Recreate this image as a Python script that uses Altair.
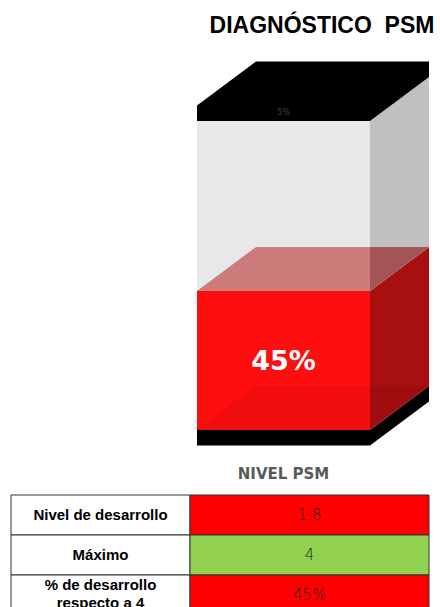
import altair as alt
import pandas as pd

# ---------------- data ----------------
TITLE = "DIAGNÓSTICO\u00a0\u00a0PSM"
CATEGORY = "NIVEL PSM"
SEGMENTS = ["Base", "Desarrollo", "Restante", "Tope"]
SEGMENT_VALUES = [5, 45, 55, 5]
SEGMENT_LABELS = ["", "45%", "", "5%"]
TABLE_LABELS = [["Nivel de desarrollo"], ["Máximo"], ["% de desarrollo", "respecto a 4"]]
TABLE_VALUES = ["1.8", "4", "45%"]

# ---------------- layout / style ----------------
W, H_TOP, H_TAB, GAP = 440, 480, 120, 12
FRONT_LEFT, FRONT_W = 197, 173
ZERO_PX, PX_PER_PCT = 430, 3.09
DEPTH_X_PX, DEPTH_Y_PX = 59, 44
COL_EDGES = [11, 190, 429]
VALUE_FILLS = ["#FF0000", "#92D050", "#FF0000"]
LINE_H = 18

DX = DEPTH_X_PX / FRONT_W
DY = DEPTH_Y_PX / PX_PER_PCT
x_scale = alt.Scale(domain=[-FRONT_LEFT / FRONT_W, (W - FRONT_LEFT) / FRONT_W], nice=False, zero=False)
y_scale = alt.Scale(domain=[(ZERO_PX - H_TOP) / PX_PER_PCT, ZERO_PX / PX_PER_PCT], nice=False, zero=False)

# segment bounds (base sits below zero)
bounds = []
s = -SEGMENT_VALUES[0]
for v in SEGMENT_VALUES:
    bounds.append((s, s + v))
    s += v
(b0, b1), (r0, r1), (g0, g1), (c0, c1) = bounds

rows = []


def add(pts, color, op=1.0):
    key = f"f{len(set(r['face'] for r in rows)):02d}"
    for x, y, y2 in pts:
        rows.append(dict(face=key, x=x, y=y, y2=y2, color=color, op=op))


# draw order back -> front
add([(0, b0, b1), (1, b0, b1), (1 + DX, b0 + DY, b1 + DY)], "#000000")
add([(0, r0, r1), (1, r0, r1)], "#FE0E0E")
add([(1, r0, r1), (1 + DX, r0 + DY, r1 + DY)], "#A80F0F")
add([(0, b1, b1), (DX, b1, b1 + DY), (1, b1, b1 + DY), (1 + DX, b1 + DY, b1 + DY)], "#000000", 0.06)
add([(1, g0, g1), (1 + DX, g0 + DY, g1 + DY)], "#C0C0C0")
add([(0, g0, g1), (1, g0, g1)], "#E8E8E8")
add([(0, r1, r1), (DX, r1, r1 + DY), (1, r1, r1 + DY)], "#CD7B7B")
add([(1, r1, r1 + DY), (1 + DX, r1 + DY, r1 + DY)], "#A35555")
add([(0, c0, c1), (DX, c0, c1 + DY), (1, c0, c1 + DY), (1 + DX, c0 + DY, c1 + DY)], "#000000")

faces = pd.DataFrame(rows)

box = alt.Chart(faces).mark_area(orient="vertical", interpolate="linear").encode(
    x=alt.X("x:Q", scale=x_scale, axis=None),
    y=alt.Y("y:Q", scale=y_scale, axis=None),
    y2="y2:Q",
    detail="face:N",
    color=alt.Color("color:N", scale=None),
    opacity=alt.Opacity("op:Q", scale=None),
)

lab = pd.DataFrame({
    "seg": SEGMENTS,
    "label": SEGMENT_LABELS,
    "x": [0.5] * len(SEGMENTS),
    "y": [(a + b) / 2 for a, b in bounds],
})

big_label = alt.Chart(lab[lab["seg"] == "Desarrollo"]).mark_text(
    font="DejaVu Sans", fontWeight="bold", fontSize=27, color="white", baseline="middle", dy=2
).encode(x=alt.X("x:Q", scale=x_scale), y=alt.Y("y:Q", scale=y_scale), text="label:N")

small_label = alt.Chart(lab[lab["seg"] == "Tope"]).mark_text(
    font="DejaVu Sans", fontSize=8, color="#404040", baseline="middle"
).encode(x=alt.X("x:Q", scale=x_scale), y=alt.Y("y:Q", scale=y_scale), text="label:N")

title = alt.Chart(pd.DataFrame({"t": [TITLE]})).mark_text(
    font="Liberation Sans", fontWeight="bold", fontSize=23, color="black", baseline="alphabetic"
).encode(x=alt.value(322), y=alt.value(33), text="t:N")

cat = alt.Chart(pd.DataFrame({"t": [CATEGORY]})).mark_text(
    font="DejaVu Sans", fontWeight="bold", fontSize=15, color="#595959", baseline="alphabetic"
).encode(x=alt.value(FRONT_LEFT + FRONT_W / 2), y=alt.value(479), text="t:N")

top = alt.layer(box, big_label, small_label, title, cat).properties(width=W, height=H_TOP)

# ---------------- table ----------------
cells = []
for i, (lbl, val) in enumerate(zip(TABLE_LABELS, TABLE_VALUES)):
    cells.append(dict(row=i, x=COL_EDGES[0], x2=COL_EDGES[1], fill="#FFFFFF", text=lbl,
                      kind="label", nlines=len(lbl)))
    cells.append(dict(row=i, x=COL_EDGES[1], x2=COL_EDGES[2], fill=VALUE_FILLS[i], text=[val],
                      kind="value", nlines=1))
cells = pd.DataFrame(cells)
cells["xm"] = (cells["x"] + cells["x2"]) / 2

tx = alt.Scale(domain=[0, W], nice=False, zero=False)
ty = alt.Scale(paddingInner=0, paddingOuter=0)

rects = alt.Chart(cells).mark_rect(stroke="#333333", strokeWidth=1).encode(
    x=alt.X("x:Q", scale=tx, axis=None),
    x2="x2:Q",
    y=alt.Y("row:O", scale=ty, axis=None),
    fill=alt.Fill("fill:N", scale=None),
)

label_one = alt.Chart(cells).transform_filter(
    (alt.datum.kind == "label") & (alt.datum.nlines == 1)
).mark_text(
    font="Liberation Sans", fontWeight="bold", fontSize=15, color="black", baseline="middle"
).encode(x=alt.X("xm:Q", scale=tx), y=alt.Y("row:O", scale=ty), text="text")

label_two = alt.Chart(cells).transform_filter(
    (alt.datum.kind == "label") & (alt.datum.nlines == 2)
).mark_text(
    font="Liberation Sans", fontWeight="bold", fontSize=15, color="black", lineHeight=LINE_H,
    baseline="middle", dy=-LINE_H / 2 - 1
).encode(x=alt.X("xm:Q", scale=tx), y=alt.Y("row:O", scale=ty), text="text")

value_text = alt.Chart(cells).transform_filter(alt.datum.kind == "value").mark_text(
    font="DejaVu Sans", fontWeight=300, fontSize=15, color="#222222", baseline="middle"
).encode(x=alt.X("xm:Q", scale=tx), y=alt.Y("row:O", scale=ty), text="text")

table = alt.layer(rects, label_one, label_two, value_text).properties(width=W, height=H_TAB)

chart = alt.vconcat(top, table, spacing=GAP).properties(padding=0, background="white").configure_view(strokeWidth=0)

chart.save("out.html", embed_options={"renderer": "svg", "actions": False})
